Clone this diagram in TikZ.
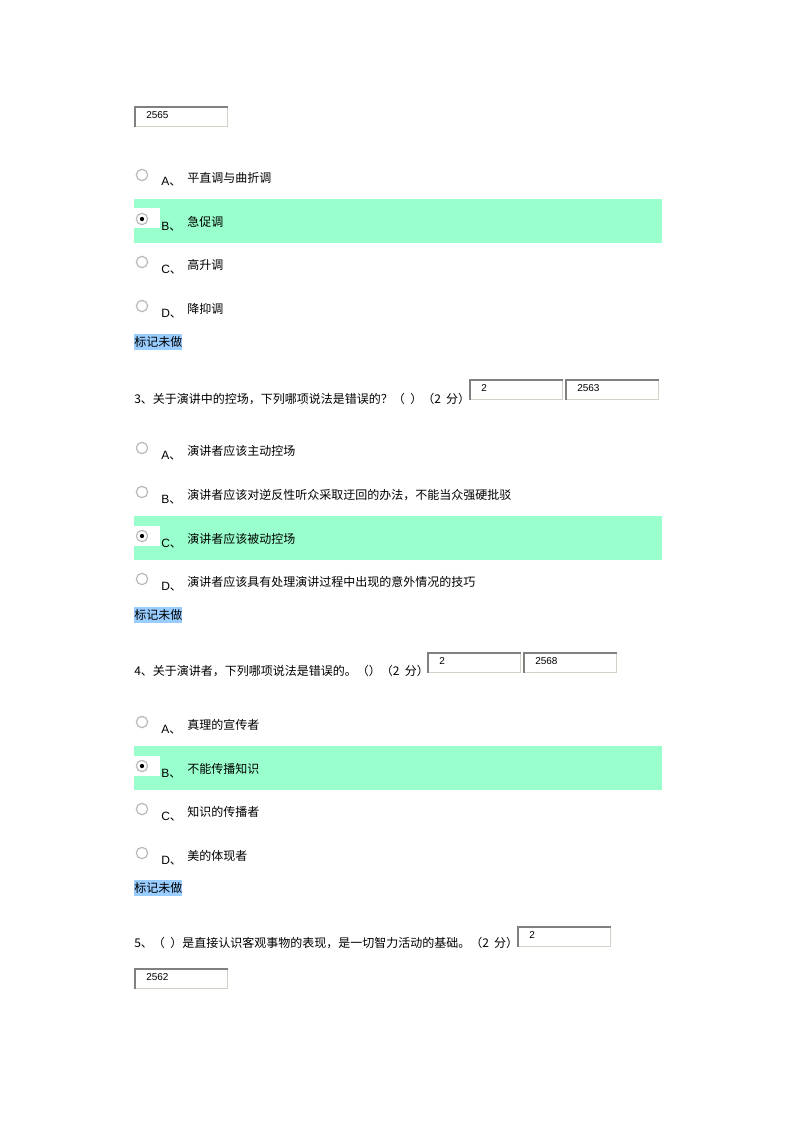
\documentclass[tikz,border=0pt]{standalone}
\usepackage{fontspec}
\setmainfont{Noto Sans CJK SC}
\newfontfamily\latf{Liberation Sans}
\definecolor{selgreen}{RGB}{153,255,204}
\definecolor{markblue}{RGB}{153,204,255}
\definecolor{boxdark}{RGB}{128,128,128}
\definecolor{boxlight}{RGB}{212,208,200}
\tikzset{
  qtext/.style={anchor=base west, inner sep=0pt, font=\fontsize{9}{10}\selectfont},
  lettertext/.style={anchor=base west, inner sep=0pt, font=\fontsize{9}{10}\selectfont},
  boxnum/.style={anchor=base west, inner sep=0pt, font=\latf\fontsize{7.5}{9}\selectfont},
  radio/.style={circle, draw=gray!55, line width=0.9pt, fill=white, minimum size=8.5pt, inner sep=0pt},
}
\newcommand\optrow[5]{%
  \ifnum#5=1
    \fill[selgreen] (134,#2-23) rectangle (662,#2+21);
    \fill[white] (134,#2-13.5) rectangle (160,#2+6.5);
  \fi
  \node[radio] (#1r) at (142,#2-3) {};
  \ifnum#5=1 \fill[black] (#1r.center) circle (1.6pt); \fi
  \node[lettertext] (#1l) at (161,#2+8) {{\latf #3}、};
  \node[qtext] (#1t) at (187,#2+4.5) {#4};
}
\newcommand\ansbox[4]{%
  \fill[white] (#2,#3) rectangle (#2+94,#3+21);
  \draw[boxlight, line width=0.75pt] (#2+93.5,#3) -- (#2+93.5,#3+20.5) -- (#2,#3+20.5);
  \draw[boxdark, line width=1.5pt] (#2+1,#3+21) -- (#2+1,#3+1) -- (#2+94,#3+1);
  \node[boxnum] (#1) at (#2+12,#3+12.6) {#4};
}
\newcommand\markrow[2]{%
  \fill[markblue] (134,#2-8) rectangle (182,#2+8);
  \node[qtext] (#1) at (134,#2+4.5) {标记未做};
}
\newcommand\gapsp{\hspace{4pt}}
\begin{document}
\begin{tikzpicture}[x=0.75pt,y=-0.75pt]
\fill[white] (0,0) rectangle (794,1123);
\useasboundingbox (0,0) rectangle (794,1123);

% question 2 (tail)
\ansbox{b2b}{134}{106}{2565}
\optrow{q2a}{178}{A}{平直调与曲折调}{0}
\optrow{q2b}{222}{B}{急促调}{1}
\optrow{q2c}{265}{C}{高升调}{0}
\optrow{q2d}{309}{D}{降抑调}{0}
\markrow{m2}{342}

% question 3
\node[qtext] (q3) at (134,403) {3、关于演讲中的控场，下列哪项说法是错误的？（\gapsp）（2\gapsp 分）};
\ansbox{b3a}{469}{379}{2}
\ansbox{b3b}{565}{379}{2563}
\optrow{q3a}{451}{A}{演讲者应该主动控场}{0}
\optrow{q3b}{495}{B}{演讲者应该对逆反性听众采取迂回的办法，不能当众强硬批驳}{0}
\optrow{q3c}{539}{C}{演讲者应该被动控场}{1}
\optrow{q3d}{582}{D}{演讲者应该具有处理演讲过程中出现的意外情况的技巧}{0}
\markrow{m3}{615}

% question 4
\node[qtext] (q4) at (134,675.5) {4、关于演讲者，下列哪项说法是错误的。（）（2\gapsp 分）};
\ansbox{b4a}{427}{652}{2}
\ansbox{b4b}{523}{652}{2568}
\optrow{q4a}{725}{A}{真理的宣传者}{0}
\optrow{q4b}{769}{B}{不能传播知识}{1}
\optrow{q4c}{812}{C}{知识的传播者}{0}
\optrow{q4d}{856}{D}{美的体现者}{0}
\markrow{m4}{888}

% question 5
\node[qtext] (q5) at (134,947.5) {5、（\gapsp）是直接认识客观事物的表现，是一切智力活动的基础。（2\gapsp 分）};
\ansbox{b5a}{517}{926}{2}
\ansbox{b5b}{134}{968}{2562}
\end{tikzpicture}
\end{document}
